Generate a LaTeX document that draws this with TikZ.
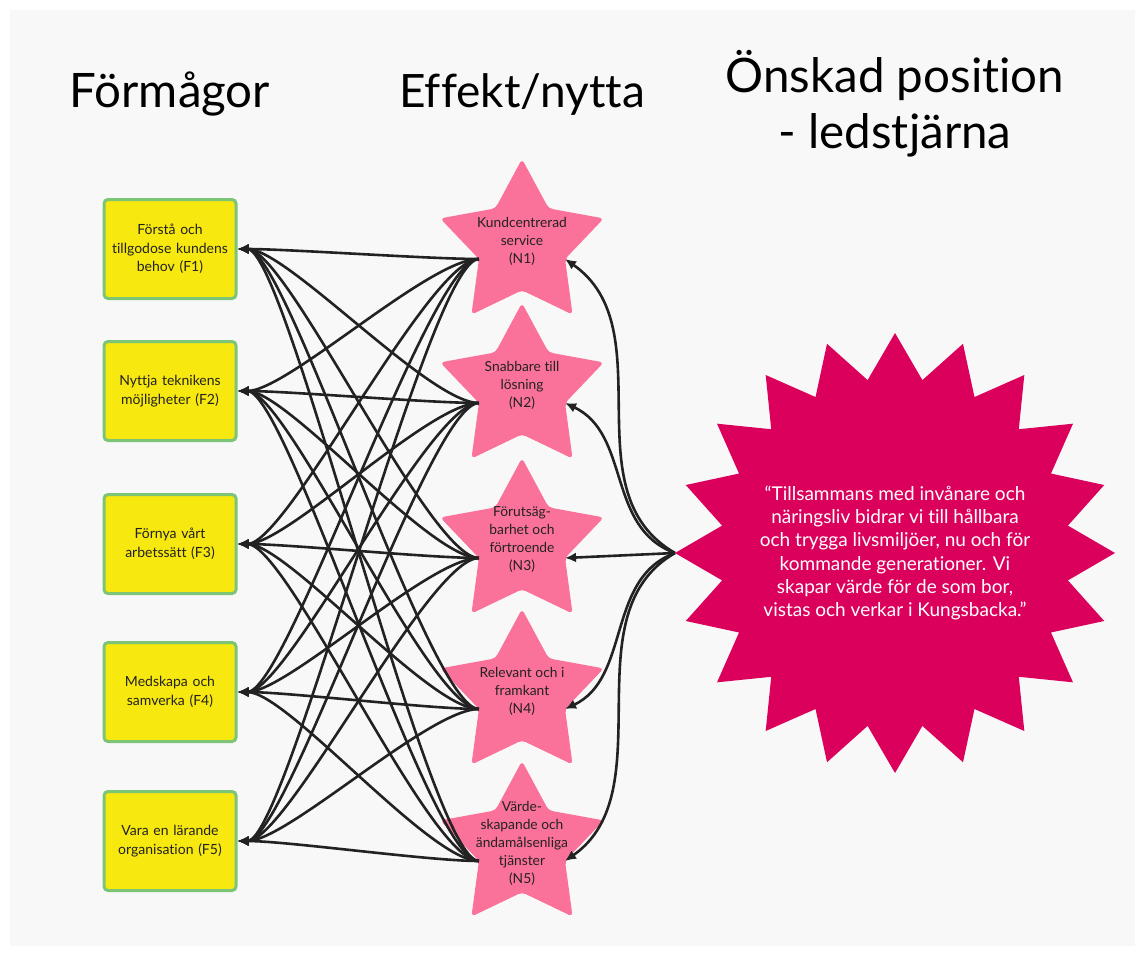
\documentclass[tikz,border=0pt]{standalone}
\usepackage{fontspec}
\setmainfont{Lato}[Ligatures={NoCommon}]
\usetikzlibrary{shapes.geometric,arrows.meta}
\definecolor{bg}{HTML}{F8F8F8}
\definecolor{boxfill}{HTML}{F7E80F}
\definecolor{boxline}{HTML}{7CC576}
\definecolor{starpink}{HTML}{FA7199}
\definecolor{burst}{HTML}{DB005B}
\definecolor{ink}{HTML}{222222}
\begin{document}
\begin{tikzpicture}[x=1pt,y=-1pt,
  fbox/.style={draw=boxline, fill=boxfill, line width=3pt, rounded corners=4pt,
    minimum width=132pt, minimum height=99pt, inner sep=0pt, text width=128pt,
    align=center, font=\fontsize{14}{18.5}\selectfont, text=ink},
  nstar/.style={star, star points=5, star point ratio=1.9, minimum size=172pt,
    inner sep=0pt, outer sep=0pt, fill=starpink, rounded corners=4pt},
  ntext/.style={align=center, font=\fontsize{13.8}{18}\selectfont, text=ink},
  conn/.style={draw=ink, line width=2.6pt, -{Latex[length=11pt,width=10pt]}},
  head/.style={font=\fontsize{47.5}{52}\selectfont, text=black, anchor=base},
]
\useasboundingbox (0,0) rectangle (1145,956);
\fill[white] (0,0) rectangle (1145,956);
\fill[bg] (10,10) rectangle (1135,946);

% headings
\node[head] (h1) at (170,107) {Förmågor};
\node[head, font=\fontsize{46}{52}\selectfont] (h2) at (522,107) {Effekt/nytta};
\node[head] (h3) at (895,92) {Önskad position};
\node[head] (h4) at (895,148) {- ledstjärna};

% big starburst
\node[star, star points=20, star point ratio=1.257, minimum size=440pt, inner sep=0pt,
  outer sep=0pt, fill=burst] (S) at (895,553) {};
\node[align=center, text=white, font=\fontsize{19}{23.3}\selectfont] (St) at (895,553)
  {“Tillsammans med invånare och\\näringsliv bidrar vi till hållbara\\och trygga livsmiljöer, nu och för\\kommande generationer. Vi\\skapar värde för de som bor,\\vistas och verkar i Kungsbacka.”};

% stars N
\node[nstar] (N1) at (522,245) {};
\node[nstar] (N2) at (522,389) {};
\node[nstar] (N3) at (522,544) {};
\node[nstar] (N4) at (522,695) {};
\node[nstar] (N5) at (522,847) {};
\node[ntext] (N1t) at (522,241) {Kundcentrerad\\service\\(N1)};
\node[ntext] (N2t) at (522,385) {Snabbare till\\lösning\\(N2)};
\node[ntext] (N3t) at (522,540) {Förutsäg-\\barhet och\\förtroende\\(N3)};
\node[ntext] (N4t) at (522,691) {Relevant och i\\framkant\\(N4)};
\node[ntext] (N5t) at (522,843) {Värde-\\skapande och\\ändamålsenliga\\tjänster\\(N5)};

% boxes F
\node[fbox] (F1) at (170,249) {Förstå och\\tillgodose kundens\\behov (F1)};
\node[fbox] (F2) at (170,391) {Nyttja teknikens\\möjligheter (F2)};
\node[fbox] (F3) at (170,544) {Förnya vårt\\arbetssätt (F3)};
\node[fbox] (F4) at (170,692) {Medskapa och\\samverka (F4)};
\node[fbox] (F5) at (170,841) {Vara en lärande\\organisation (F5)};

% N -> F connectors
\foreach \i in {1,...,5}{
  \foreach \j in {1,...,5}{
    \draw[conn] (N\i.inner point 2) .. controls +(-50,0) and +(50,0) .. (F\j.east);
  }
}

% starburst -> N connectors
\draw[conn] (S.outer point 6) .. controls +(-106,-61) and +(100,70) .. (N1.inner point 4);
\draw[conn] (S.outer point 6) .. controls +(-69,-25) and +(66,31) .. (N2.inner point 4);
\draw[conn] (S.outer point 6) -- (N3.inner point 4);
\draw[conn] (S.outer point 6) .. controls +(-69,25) and +(66,-31) .. (N4.inner point 4);
\draw[conn] (S.outer point 6) .. controls +(-106,61) and +(100,-70) .. (N5.inner point 4);
\end{tikzpicture}
\end{document}
